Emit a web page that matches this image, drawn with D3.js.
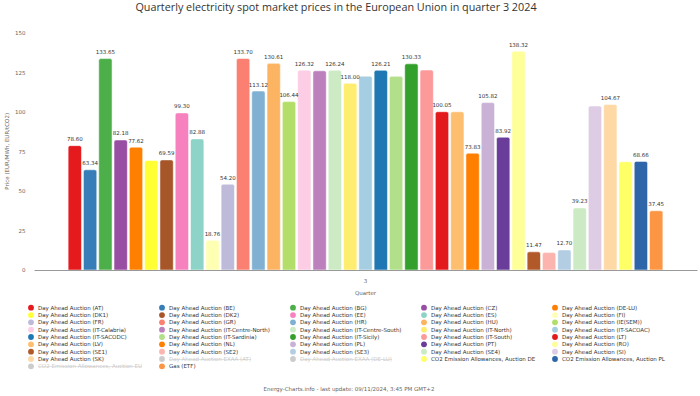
<!DOCTYPE html>
<html>
<head>
<meta charset="utf-8">
<script src="https://cdn.jsdelivr.net/npm/d3@7/dist/d3.min.js"></script>
<style>
  body { margin: 0; background: #fff; }
  svg { display: block; }
</style>
</head>
<body>
<svg id="chart" width="700" height="396"></svg>
<script>

// quarter shown on the x axis
var quarters = ["3"];

// series in legend order
var seriesNames = [
  "Day Ahead Auction (AT)", "Day Ahead Auction (BE)", "Day Ahead Auction (BG)", "Day Ahead Auction (CZ)", "Day Ahead Auction (DE-LU)",
  "Day Ahead Auction (DK1)", "Day Ahead Auction (DK2)", "Day Ahead Auction (EE)", "Day Ahead Auction (ES)", "Day Ahead Auction (FI)",
  "Day Ahead Auction (FR)", "Day Ahead Auction (GR)", "Day Ahead Auction (HR)", "Day Ahead Auction (HU)", "Day Ahead Auction (IE(SEM))",
  "Day Ahead Auction (IT-Calabria)", "Day Ahead Auction (IT-Centre-North)", "Day Ahead Auction (IT-Centre-South)", "Day Ahead Auction (IT-North)", "Day Ahead Auction (IT-SACOAC)",
  "Day Ahead Auction (IT-SACODC)", "Day Ahead Auction (IT-Sardinia)", "Day Ahead Auction (IT-Sicily)", "Day Ahead Auction (IT-South)", "Day Ahead Auction (LT)",
  "Day Ahead Auction (LV)", "Day Ahead Auction (NL)", "Day Ahead Auction (PL)", "Day Ahead Auction (PT)", "Day Ahead Auction (RO)",
  "Day Ahead Auction (SE1)", "Day Ahead Auction (SE2)", "Day Ahead Auction (SE3)", "Day Ahead Auction (SE4)", "Day Ahead Auction (SI)",
  "Day Ahead Auction (SK)", "Day Ahead Auction EXAA (AT)", "Day Ahead Auction EXAA (DE-LU)", "CO2 Emission Allowances, Auction DE", "CO2 Emission Allowances, Auction PL",
  "CO2 Emission Allowances, Auction EU", "Gas (ETF)"
];

// price in quarter 3 (EUR/MWh, EUR/tCO2); null = series switched off
var prices = [
  78.60, 63.34, 133.65, 82.18, 77.62,
  69.20, 69.59, 99.30, 82.88, 18.76,
  54.20, 133.70, 113.12, 130.61, 106.44,
  126.32, 125.90, 126.24, 118.00, 122.50,
  126.21, 122.40, 130.33, 126.40, 100.05,
  100.00, 73.83, 105.82, 83.92, 138.32,
  11.47, 11.00, 12.70, 39.23, 103.60,
  104.67, null, null, 68.40, 68.66,
  null, 37.45
];

// series hidden in the legend
var hiddenSeries = [
  "Day Ahead Auction EXAA (AT)", "Day Ahead Auction EXAA (DE-LU)", "CO2 Emission Allowances, Auction EU"
];

var seriesColors = [
  "#e41a1c", "#377eb8", "#4daf4a", "#984ea3", "#ff7f00",
  "#ffff33", "#a65628", "#f781bf", "#8dd3c7", "#ffffb3",
  "#bebada", "#fb8072", "#80b1d3", "#fdb462", "#b3de69",
  "#fccde5", "#bc80bd", "#ccebc5", "#ffed6f", "#a6cee3",
  "#1f78b4", "#b2df8a", "#33a02c", "#fb9a99", "#e31a1c",
  "#fdbf6f", "#ff7f00", "#cab2d6", "#6a3d9a", "#ffff99",
  "#b15928", "#fbb4ae", "#b3cde3", "#ccebc5", "#decbe4",
  "#fed9a6", "#ffffcc", "#e5d8bd", "#ffff66", "#2f65a9",
  "#cccccc", "#fd9644"
];

var yTicks = [0, 25, 50, 75, 100, 125, 150];

var svg = d3.select("#chart");
var font = "'DejaVu Sans', sans-serif";
var plotLeft = 34, plotRight = 697, plotTop = 32.7, plotBottom = 270;

var rows = seriesNames.map(function(name, i) {
  return { name: name, value: prices[i], color: seriesColors[i], hidden: hiddenSeries.indexOf(name) >= 0 };
});
var visible = rows.filter(function(d) { return !d.hidden; });

var y = d3.scaleLinear().domain([0, 150]).range([plotBottom, plotTop]);
var x0 = d3.scaleBand().domain(quarters).range([plotLeft, plotRight]);
var x1 = d3.scaleBand()
    .domain(visible.map(function(d) { return d.name; }))
    .range([x0("3") + x0.bandwidth() * 0.05, x0("3") + x0.bandwidth() * 0.95])
    .paddingInner(0.13)
    .paddingOuter(0.065);

// title
svg.append("text")
    .attr("x", 336).attr("y", 11)
    .attr("text-anchor", "middle")
    .style("font-family", "'Open Sans', sans-serif")
    .style("font-size", "10.8px")
    .style("fill", "#333")
    .text("Quarterly electricity spot market prices in the European Union in quarter 3 2024");

// y axis
var yAxis = svg.append("g")
    .attr("transform", "translate(" + plotLeft + ",0)")
    .call(d3.axisLeft(y).tickValues(yTicks).tickSize(0).tickPadding(8.5));
yAxis.select(".domain").remove();
yAxis.selectAll("text").style("font-family", font).style("font-size", "5.5px").style("fill", "#666");

svg.append("text")
    .attr("transform", "translate(9," + ((plotTop + plotBottom) / 2) + ") rotate(-90)")
    .attr("text-anchor", "middle")
    .style("font-family", font).style("font-size", "5.5px").style("fill", "#666")
    .text("Price (EUR/MWh, EUR/tCO2)");

// bars, rounded top corners
function barPath(d) {
  var bx = x1(d.name), bw = x1.bandwidth(), top = y(d.value), r = 2;
  return "M" + bx + "," + plotBottom +
    "V" + (top + r) + "Q" + bx + "," + top + " " + (bx + r) + "," + top +
    "H" + (bx + bw - r) + "Q" + (bx + bw) + "," + top + " " + (bx + bw) + "," + (top + r) +
    "V" + plotBottom + "Z";
}

svg.append("g").selectAll("path")
    .data(visible)
    .enter().append("path")
    .attr("d", barPath)
    .attr("fill", function(d) { return d.color; })
    .attr("stroke", "#fff")
    .attr("stroke-width", 0.5);

// x axis
var xAxis = svg.append("g")
    .attr("transform", "translate(0," + plotBottom + ")")
    .call(d3.axisBottom(x0).tickSize(0).tickPadding(9));
xAxis.select(".domain").attr("stroke", "#999");
xAxis.selectAll("text").style("font-family", font).style("font-size", "5.5px").style("fill", "#666");

svg.append("text")
    .attr("x", (plotLeft + plotRight) / 2).attr("y", 295)
    .attr("text-anchor", "middle")
    .style("font-family", font).style("font-size", "5.5px").style("fill", "#666")
    .text("Quarter");

// data labels, overlapping ones are dropped (taller bar wins)
var labels = svg.append("g").selectAll("text")
    .data(visible)
    .enter().append("text")
    .attr("x", function(d) { return x1(d.name) + x1.bandwidth() / 2; })
    .attr("y", function(d) { return y(d.value) - 4.5; })
    .attr("text-anchor", "middle")
    .style("font-family", font).style("font-size", "5.5px").style("fill", "#333")
    .text(function(d) { return d.value.toFixed(2); });

labels.each(function(d) { d.lw = this.getComputedTextLength(); });
var shown = [];
visible.slice().sort(function(a, b) { return b.value - a.value; }).forEach(function(d) {
  var cx = x1(d.name) + x1.bandwidth() / 2, cy = y(d.value);
  var clash = shown.some(function(s) {
    return Math.abs(s.cx - cx) < (s.w + d.lw) / 2 && Math.abs(s.cy - cy) < 6.8;
  });
  d.showLabel = !clash;
  if (!clash) shown.push({ cx: cx, cy: cy, w: d.lw });
});
labels.style("display", function(d) { return d.showLabel ? null : "none"; });

// legend, 5 columns
var legend = svg.append("g").selectAll("g")
    .data(rows)
    .enter().append("g")
    .attr("transform", function(d, i) {
      return "translate(" + (31 + (i % 5) * 131) + "," + (307.7 + Math.floor(i / 5) * 7.33) + ")";
    });

legend.append("circle")
    .attr("r", 2.9)
    .attr("fill", function(d) { return d.hidden ? "#ccc" : d.color; });

legend.append("text")
    .attr("x", 7).attr("y", 2)
    .style("font-family", font).style("font-size", "5.5px")
    .style("fill", function(d) { return d.hidden ? "#ccc" : "#333"; })
    .style("text-decoration", function(d) { return d.hidden ? "line-through" : null; })
    .text(function(d) { return d.name; });

// footer
svg.append("text")
    .attr("x", 349).attr("y", 391)
    .attr("text-anchor", "middle")
    .style("font-family", font).style("font-size", "5.5px").style("fill", "#666")
    .text("Energy-Charts.info - last update: 09/11/2024, 3:45 PM GMT+2");

</script>
</body>
</html>
